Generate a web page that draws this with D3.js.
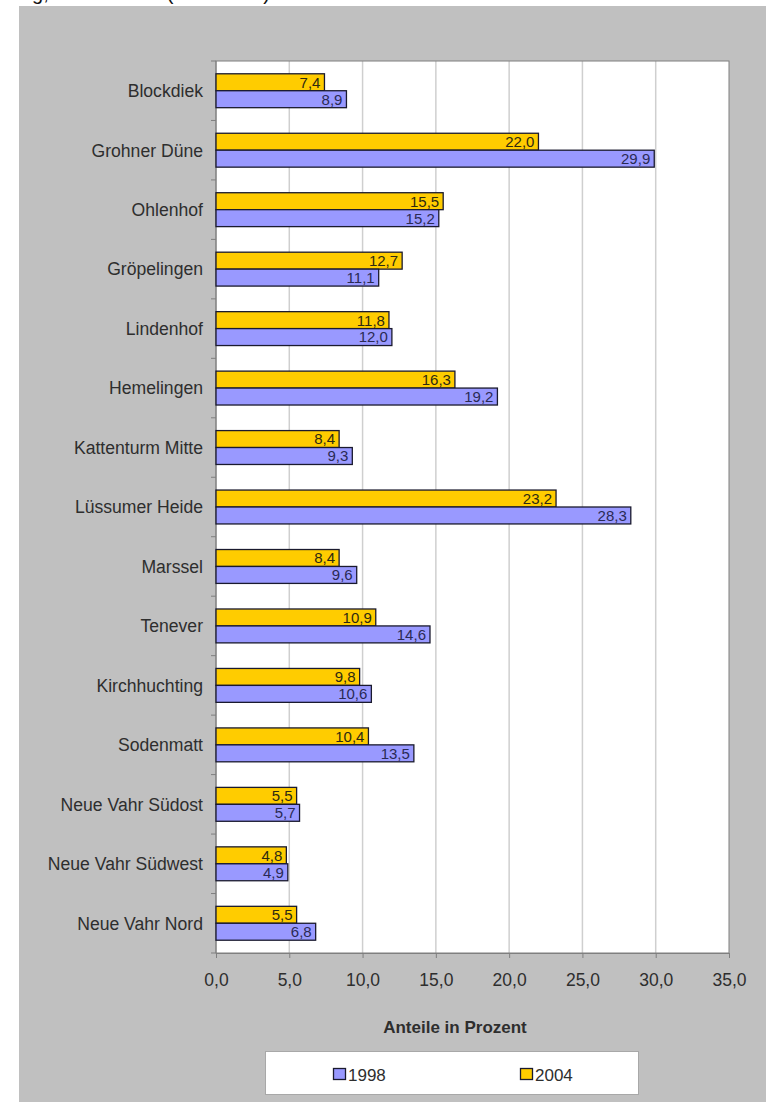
<!DOCTYPE html>
<html>
<head>
<meta charset="utf-8">
<script src="https://cdn.jsdelivr.net/npm/d3@7"></script>
<style>
  html, body { margin: 0; padding: 0; background: #ffffff; }
  svg { display: block; font-family: "Liberation Sans", Arial, sans-serif; }
</style>
</head>
<body>
<svg id="chart" width="766" height="1102"></svg>
<script>
// Ortsteile, top to bottom
const categories = [
  "Blockdiek", "Grohner Düne", "Ohlenhof", "Gröpelingen", "Lindenhof",
  "Hemelingen", "Kattenturm Mitte", "Lüssumer Heide", "Marssel", "Tenever",
  "Kirchhuchting", "Sodenmatt", "Neue Vahr Südost", "Neue Vahr Südwest", "Neue Vahr Nord"
];
// Anteile in Prozent
const values2004 = [7.4, 22.0, 15.5, 12.7, 11.8, 16.3, 8.4, 23.2, 8.4, 10.9, 9.8, 10.4, 5.5, 4.8, 5.5];
const values1998 = [8.9, 29.9, 15.2, 11.1, 12.0, 19.2, 9.3, 28.3, 9.6, 14.6, 10.6, 13.5, 5.7, 4.9, 6.8];
const seriesNames = ["2004", "1998"];
const legendNames = ["1998", "2004"];
const xTicks = [0, 5, 10, 15, 20, 25, 30, 35];

const colors = { "1998": "#9999ff", "2004": "#ffcc00" };
const fmt = v => d3.format(".1f")(v).replace(".", ",");
const textColor = "#2e2e2e";

const svg = d3.select("#chart");

// grey chart frame
svg.append("rect").attr("x", 19).attr("y", 6).attr("width", 747).attr("height", 1096)
  .attr("fill", "#c0c0c0");

// title line running off the top edge of the page
svg.append("text").attr("x", 270).attr("y", 0).attr("text-anchor", "end")
  .attr("font-size", 20).attr("fill", "#111")
  .text("Entwicklung, 1998 - 2004 (in Prozent)");

const plot = { left: 216, top: 61, right: 729, bottom: 953 };

const x = d3.scaleLinear().domain([0, 35]).range([plot.left, plot.right]);
const y = d3.scaleBand().domain(categories).range([plot.top, plot.bottom])
  .paddingInner(0.43).paddingOuter(0.215);
const ySub = d3.scaleBand().domain(seriesNames).range([0, y.bandwidth()]);

// plot background
svg.append("rect").attr("x", plot.left).attr("y", plot.top)
  .attr("width", plot.right - plot.left).attr("height", plot.bottom - plot.top)
  .attr("fill", "#ffffff");

// vertical gridlines
svg.append("g").selectAll("line").data(xTicks.slice(1, -1)).join("line")
  .attr("x1", d => x(d)).attr("x2", d => x(d))
  .attr("y1", plot.top).attr("y2", plot.bottom)
  .attr("stroke", "#cfcfcf").attr("stroke-width", 1.5);

// plot border
svg.append("rect").attr("x", plot.left).attr("y", plot.top)
  .attr("width", plot.right - plot.left).attr("height", plot.bottom - plot.top)
  .attr("fill", "none").attr("stroke", "#7f7f7f").attr("stroke-width", 1);

// x axis
const xAxis = d3.axisBottom(x).tickValues(xTicks).tickFormat(fmt).tickSize(5).tickPadding(16);
const gx = svg.append("g").attr("transform", `translate(0,${plot.bottom})`).call(xAxis);
gx.select(".domain").attr("stroke", "#7f7f7f");
gx.selectAll(".tick line").attr("stroke", "#7f7f7f");
gx.selectAll(".tick text").attr("font-size", 17.5).attr("fill", textColor)
  .attr("font-family", "Liberation Sans, Arial, sans-serif");

// y axis: category labels and tick marks at band boundaries
const step = (plot.bottom - plot.top) / categories.length;
const yTickPos = d3.range(categories.length + 1).map(i => plot.top + i * step);
svg.append("g").selectAll("line").data(yTickPos).join("line")
  .attr("x1", plot.left - 5).attr("x2", plot.left)
  .attr("y1", d => d).attr("y2", d => d)
  .attr("stroke", "#7f7f7f");
svg.append("line").attr("x1", plot.left).attr("x2", plot.left)
  .attr("y1", plot.top).attr("y2", plot.bottom).attr("stroke", "#7f7f7f");

svg.append("g").selectAll("text").data(categories).join("text")
  .attr("x", 203).attr("y", d => y(d) + y.bandwidth() / 2)
  .attr("dy", "0.36em").attr("text-anchor", "end")
  .attr("font-size", 17.6).attr("fill", textColor)
  .text(d => d);

// bars
const rows = categories.map((c, i) => ({ cat: c, "2004": values2004[i], "1998": values1998[i] }));
const groups = svg.append("g").selectAll("g").data(rows).join("g")
  .attr("transform", d => `translate(0,${y(d.cat)})`);

groups.selectAll("rect").data(d => seriesNames.map(s => ({ s, v: d[s] }))).join("rect")
  .attr("x", x(0)).attr("y", d => ySub(d.s))
  .attr("width", d => x(d.v) - x(0)).attr("height", ySub.bandwidth())
  .attr("fill", d => colors[d.s]).attr("stroke", "#1a1a2e").attr("stroke-width", 1.3);

groups.selectAll("text").data(d => seriesNames.map(s => ({ s, v: d[s] }))).join("text")
  .attr("x", d => x(d.v) - 4).attr("y", d => ySub(d.s) + ySub.bandwidth() / 2)
  .attr("dy", "0.36em").attr("text-anchor", "end")
  .attr("font-size", 15).attr("fill", d => d.s === "1998" ? "#2a2a55" : "#2e2a10")
  .text(d => fmt(d.v));

// axis title
svg.append("text").attr("x", 455).attr("y", 1033).attr("text-anchor", "middle")
  .attr("font-size", 17).attr("font-weight", "bold").attr("fill", textColor)
  .text("Anteile in Prozent");

// legend
svg.append("rect").attr("x", 265.5).attr("y", 1051.5).attr("width", 373).attr("height", 43)
  .attr("fill", "#ffffff").attr("stroke", "#a8a8a8");
const legendX = { "1998": 333, "2004": 520 };
const lg = svg.append("g").selectAll("g").data(legendNames).join("g")
  .attr("transform", d => `translate(${legendX[d]},1068)`);
lg.append("rect").attr("x", 0.5).attr("y", 0.5).attr("width", 12).attr("height", 11)
  .attr("fill", d => colors[d]).attr("stroke", "#1a1a2e").attr("stroke-width", 1.3);
lg.append("text").attr("x", 15).attr("y", 13).attr("font-size", 17).attr("fill", textColor)
  .text(d => d);
</script>
</body>
</html>
